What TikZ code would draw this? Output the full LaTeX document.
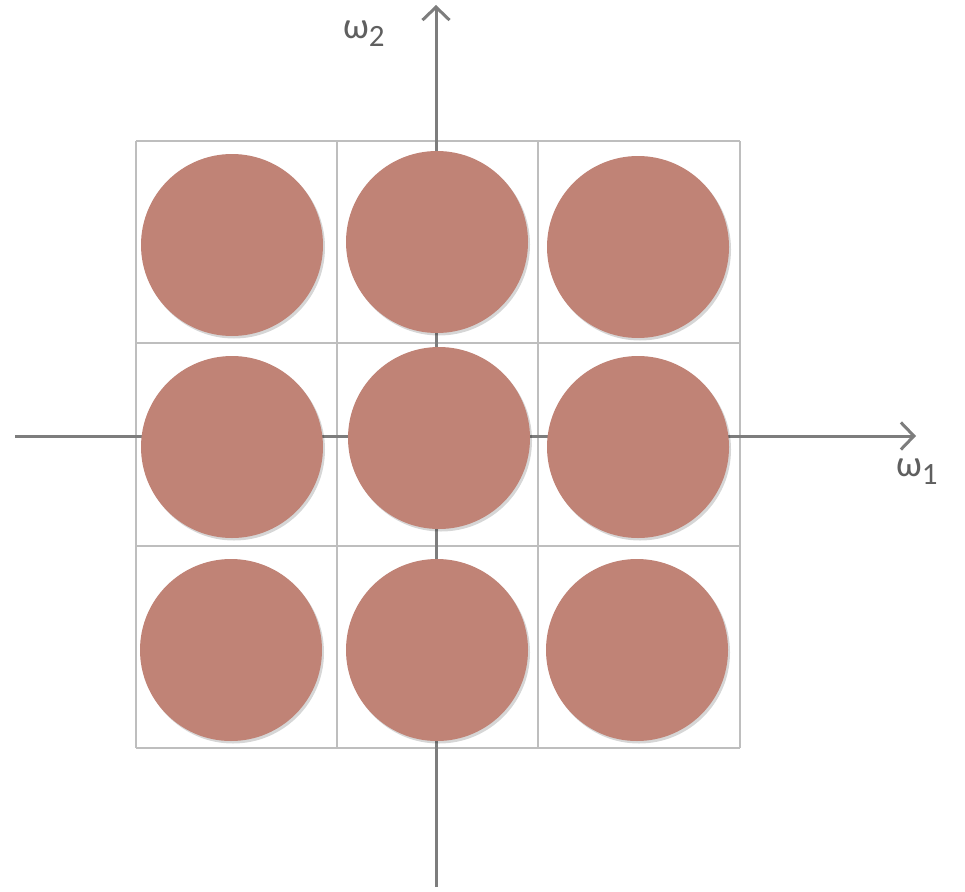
\documentclass[tikz,border=0pt]{standalone}
\usepackage{fontspec}
\setmainfont{Carlito}
\usetikzlibrary{arrows.meta}
\definecolor{disc}{RGB}{192,131,118}
\definecolor{gridc}{RGB}{190,190,190}
\definecolor{axisc}{RGB}{125,125,125}
\definecolor{labc}{RGB}{95,95,95}
\tikzset{
  gridline/.style={draw=gridc, line width=1.6pt},
  axisline/.style={draw=axisc, line width=3pt, -{Straight Barb[length=13pt,width=27pt,line width=3pt]}},
  discshadow/.style={fill=black, opacity=0.16},
  discfill/.style={fill=disc},
  axlabel/.style={text=labc, font=\fontsize{37}{40}\selectfont, inner sep=0pt},
}
\newcommand{\subdig}[1]{\raisebox{-8pt}{\fontsize{31}{34}\selectfont #1}}
\begin{document}
\begin{tikzpicture}[x=1pt,y=-1pt]
\useasboundingbox (0,0) rectangle (965,891);
% grid
\foreach \xx in {136,337,538,740} \draw[gridline] (\xx,141) -- (\xx,748);
\foreach \yy in {141,343,546,748} \draw[gridline] (136,\yy) -- (740,\yy);
% axes
\coordinate (xs) at (15,436);
\coordinate (xe) at (916,436);
\coordinate (ys) at (436,887);
\coordinate (ye) at (436,5);
\draw[axisline] (xs) -- (xe);
\draw[axisline] (ys) -- (ye);
% discs
\foreach \cx/\cy in {232/245, 437/242, 638/247, 232/447, 439/438, 638/447, 231/650, 437/650, 637/650} {
  \fill[discshadow] (\cx+2,\cy+2.5) circle (91);
  \fill[discfill] (\cx,\cy) circle (91);
}
% labels
\node[axlabel, anchor=base west] (w2) at (343,38) {ω\subdig{2}};
\node[axlabel, anchor=base west] (w1) at (896,476) {ω\subdig{1}};
\end{tikzpicture}
\end{document}
